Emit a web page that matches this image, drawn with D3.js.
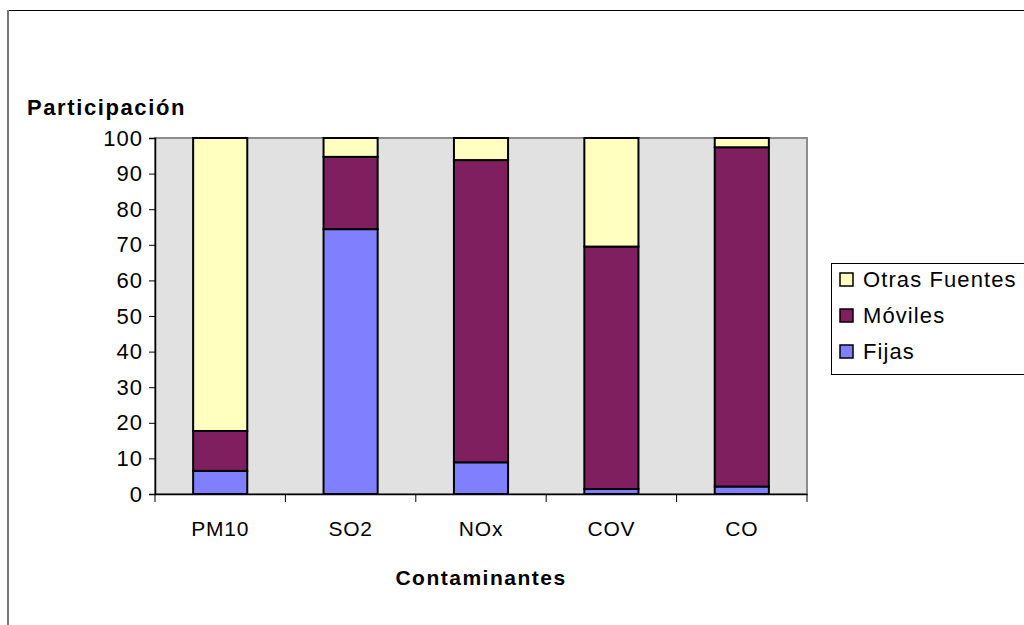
<!DOCTYPE html>
<html>
<head>
<meta charset="utf-8">
<script src="https://cdn.jsdelivr.net/npm/d3@7"></script>
<style>
  html, body { margin: 0; padding: 0; background: #fff; }
  svg { display: block; font-family: "Liberation Sans", Arial, sans-serif; }
</style>
</head>
<body>
<svg id="chart" width="1024" height="625"></svg>
<script>
// Participación por tipo de fuente para cada contaminante (%)
const categories = ["PM10", "SO2", "NOx", "COV", "CO"];
const seriesNames = ["Fijas", "Móviles", "Otras Fuentes"];
const fijas = [6.5, 74.4, 8.9, 1.4, 2.1];
const moviles = [11.2, 20.3, 84.9, 68.1, 95.3];
const otras = [82.3, 5.3, 6.2, 30.5, 2.6];
const yTicks = [0, 10, 20, 30, 40, 50, 60, 70, 80, 90, 100];
const colors = ["#8080FF", "#7F1F5F", "#FFFFC0"];

const rows = categories.map((c, i) => ({
  cat: c, "Fijas": fijas[i], "Móviles": moviles[i], "Otras Fuentes": otras[i]
}));

const svg = d3.select("#chart");
const plot = { left: 155, right: 807, top: 138, bottom: 494 };

// Marco del área del gráfico
svg.append("line").attr("x1", 8).attr("x2", 1024).attr("y1", 10.5).attr("y2", 10.5)
  .attr("stroke", "#000").attr("stroke-width", 1);
svg.append("line").attr("x1", 8).attr("x2", 8).attr("y1", 10).attr("y2", 625)
  .attr("stroke", "#777").attr("stroke-width", 2);

const x = d3.scaleBand().domain(categories).range([plot.left, plot.right])
  .paddingInner(0.585).paddingOuter(0.2925);
const xOuter = d3.scaleBand().domain(categories).range([plot.left, plot.right]);
const y = d3.scaleLinear().domain([0, 100]).range([plot.bottom, plot.top]);

// Fondo del área de trazado
svg.append("rect")
  .attr("x", plot.left).attr("y", plot.top)
  .attr("width", plot.right - plot.left).attr("height", plot.bottom - plot.top)
  .attr("fill", "#E1E1E1").attr("stroke", "#8C8C8C").attr("stroke-width", 2);

const stack = d3.stack().keys(seriesNames)(rows);

svg.append("g").selectAll("g")
  .data(stack).join("g")
  .attr("fill", (d, i) => colors[i])
  .selectAll("rect")
  .data(d => d).join("rect")
  .attr("x", d => x(d.data.cat))
  .attr("width", x.bandwidth())
  .attr("y", d => y(d[1]))
  .attr("height", d => y(d[0]) - y(d[1]))
  .attr("stroke", "#000").attr("stroke-width", 2);

// Eje Y
const yAxis = svg.append("g")
  .attr("transform", `translate(${plot.left},0)`)
  .call(d3.axisLeft(y).tickValues(yTicks).tickSize(6).tickPadding(6));
yAxis.select(".domain").attr("stroke", "#000").attr("stroke-width", 1.5);
yAxis.selectAll(".tick line").attr("stroke", "#000");
yAxis.selectAll("text").attr("font-size", 22).attr("fill", "#000")
  .attr("font-family", "Liberation Sans, Arial, sans-serif").style("letter-spacing", "1px");

// Eje X
const xAxis = svg.append("g")
  .attr("transform", `translate(0,${plot.bottom})`)
  .call(d3.axisBottom(xOuter).tickSize(0).tickPadding(27));
xAxis.select(".domain").attr("stroke", "#000").attr("stroke-width", 1.5);
xAxis.selectAll("text").attr("font-size", 21).attr("fill", "#000")
  .attr("font-family", "Liberation Sans, Arial, sans-serif").style("letter-spacing", "0.8px");
const boundaries = categories.map(c => xOuter(c)).concat([plot.right]);
svg.append("g").selectAll("line").data(boundaries).join("line")
  .attr("x1", d => d).attr("x2", d => d)
  .attr("y1", plot.bottom).attr("y2", plot.bottom + 8)
  .attr("stroke", "#000").attr("stroke-width", 1);

// Títulos de ejes
svg.append("text").attr("x", 27).attr("y", 115)
  .attr("font-size", 22).attr("font-weight", "bold").style("letter-spacing", "1.6px")
  .text("Participación");
svg.append("text").attr("x", (plot.left + plot.right) / 2).attr("y", 585)
  .attr("text-anchor", "middle")
  .attr("font-size", 21).attr("font-weight", "bold").style("letter-spacing", "1.5px")
  .text("Contaminantes");

// Leyenda
const legend = svg.append("g");
legend.append("rect").attr("x", 831.5).attr("y", 263.5).attr("width", 260).attr("height", 111)
  .attr("fill", "#fff").attr("stroke", "#000").attr("stroke-width", 1);
const legendOrder = ["Otras Fuentes", "Móviles", "Fijas"];
const legendItems = legend.selectAll("g.item").data(legendOrder).join("g")
  .attr("class", "item")
  .attr("transform", (d, i) => `translate(0,${279 + i * 36})`);
legendItems.append("rect").attr("x", 840).attr("y", -6).attr("width", 13).attr("height", 13)
  .attr("fill", d => colors[seriesNames.indexOf(d)]).attr("stroke", "#000").attr("stroke-width", 1.5);
legendItems.append("text").attr("x", 863).attr("y", 8)
  .attr("font-size", 22).style("letter-spacing", "1.1px")
  .text(d => d);
</script>
</body>
</html>
